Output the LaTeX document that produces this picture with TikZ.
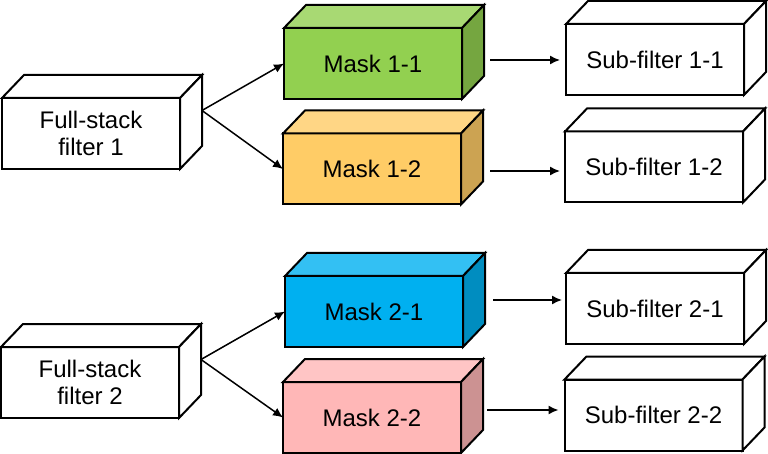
\documentclass[tikz,border=0pt]{standalone}
\usepackage{fontspec}
\setmainfont{Liberation Sans}
\usetikzlibrary{arrows.meta}
\definecolor{gF}{HTML}{92D050}\definecolor{gT}{HTML}{A8D973}\definecolor{gS}{HTML}{75A640}
\definecolor{oF}{HTML}{FFCC66}\definecolor{oT}{HTML}{FFD685}\definecolor{oS}{HTML}{CCA352}
\definecolor{bF}{HTML}{00B0F0}\definecolor{bT}{HTML}{33C0F3}\definecolor{bS}{HTML}{008DC0}
\definecolor{pF}{HTML}{FFB7B7}\definecolor{pT}{HTML}{FFC5C5}\definecolor{pS}{HTML}{CC9292}
\newcommand\boxcube[6]{%
  \node[face, fill=#3] (#1) at (#2) {#6};
  \filldraw[edge, fill=#4] (#1.north west) -- ++(22,-23) -- ++(178,0) -- (#1.north east) -- cycle;
  \filldraw[edge, fill=#5] (#1.north east) -- ++(22,-23) -- ++(0,71) -- (#1.south east) -- cycle;
}
\begin{document}
\begin{tikzpicture}[x=1pt,y=-1pt,
  face/.style={draw, line width=2pt, line join=miter, minimum width=178pt, minimum height=71pt,
    outer sep=0pt, inner sep=0pt, align=center, font=\fontsize{24}{27}\selectfont},
  edge/.style={line width=2pt, line join=miter},
  arr/.style={line width=1.5pt, -{Latex[length=10pt,width=9pt]}}]
\useasboundingbox (0,0) rectangle (768,454);
\boxcube{fs1}{91,133.5}{white}{white}{white}{Full-stack\\filter 1}
\boxcube{fs2}{90,382.5}{white}{white}{white}{Full-stack\\filter 2}
\boxcube{m11}{373,63.5}{gF}{gT}{gS}{Mask 1-1}
\boxcube{m12}{372,169}{oF}{oT}{oS}{Mask 1-2}
\boxcube{m21}{374,311.5}{bF}{bT}{bS}{Mask 2-1}
\boxcube{m22}{372,417.5}{pF}{pT}{pS}{Mask 2-2}
\boxcube{s11}{655,59.5}{white}{white}{white}{Sub-filter 1-1}
\boxcube{s12}{654,167}{white}{white}{white}{Sub-filter 1-2}
\boxcube{s21}{655,308.5}{white}{white}{white}{Sub-filter 2-1}
\boxcube{s22}{653.5,415}{white}{white}{white}{Sub-filter 2-2}
\draw[arr] ([shift={(22,-23)}]fs1.east) -- (m11.west);
\draw[arr] ([shift={(22,-23)}]fs1.east) -- (m12.west);
\draw[arr] ([shift={(22,-23)}]fs2.east) -- (m21.west);
\draw[arr] ([shift={(22,-23)}]fs2.east) -- (m22.west);
\draw[arr] ([xshift=28]m11.east |- 0,60) -- ([xshift=-6]s11.west |- 0,60);
\draw[arr] ([xshift=29]m12.east |- 0,171) -- ([xshift=-5]s12.west |- 0,171);
\draw[arr] ([xshift=30]m21.east |- 0,300) -- ([xshift=-4]s21.west |- 0,300);
\draw[arr] ([xshift=26]m22.east |- 0,410) -- ([xshift=-6]s22.west |- 0,410);
\end{tikzpicture}
\end{document}
